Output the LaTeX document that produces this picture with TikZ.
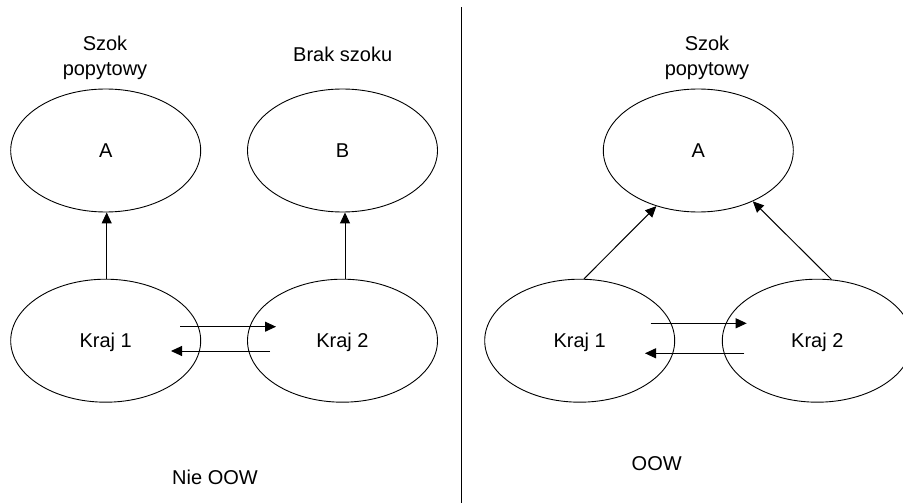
\documentclass[tikz,border=0pt]{standalone}
\usepackage{fontspec}
\setmainfont{Liberation Sans}
\usetikzlibrary{shapes.geometric,arrows.meta,calc}
\begin{document}
\begin{tikzpicture}[x=1pt,y=-1pt,
  every node/.style={font=\fontsize{20}{24.5}\selectfont},
  region/.style={draw,ellipse,minimum width=190pt,minimum height=123pt,
    inner sep=0pt,text depth=0pt,line width=0.9pt},
  link/.style={line width=1pt,-{Triangle[length=11pt,width=10pt]}},
  tag/.style={align=center,inner sep=0pt}]
\clip (0,0) rectangle (903,503);
\fill[white] (0,0) rectangle (903,503);

% left half: no optimum currency area
\node[region] (a)  at (105.7,150.5) {A};
\node[region] (b)  at (342.5,150.5) {B};
\node[region] (k1) at (105.7,340.7) {Kraj 1};
\node[region] (k2) at (342.5,340.7) {Kraj 2};
\node[tag] (sa) at (105,57.7) {Szok\\popytowy};
\node[tag,anchor=base] (sb) at (342.7,61.7) {Brak szoku};
\node[tag,anchor=base] (nie) at (215,484) {Nie OOW};

\draw[link] ($(k1.north)+(1,0)$) -- ($(a.south)+(1,0)$);
\draw[link] ($(k2.north)+(2.5,0)$) -- ($(b.south)+(2.5,0)$);
\draw[link] ($(k1.center)+(74.3,-14)$) -- ($(k2.center)+(-66.5,-14)$);
\draw[link] ($(k2.center)+(-72.5,10.3)$) -- ($(k1.center)+(65.3,10.3)$);

% divider
\coordinate (top) at (461.7,7.3);
\coordinate (bot) at (461.7,503);
\draw[line width=1.3pt] (top) -- (bot);

% right half: optimum currency area
\node[region] (ar)  at (698.3,150.5) {A};
\node[region] (k1r) at (579.7,340.7) {Kraj 1};
\node[region] (k2r) at (817.3,340.7) {Kraj 2};
\node[tag] (sr) at (707,57.7) {Szok\\popytowy};
\node[tag,anchor=base] (oow) at (656.7,470) {OOW};

\draw[link] (k1r.86) -- (ar.-127);
\draw[link] (k2r.77) -- (ar.-43);
\draw[link] ($(k1r.center)+(71,-17.4)$) -- ($(k2r.center)+(-70.6,-17.4)$);
\draw[link] ($(k2r.center)+(-73,12.6)$) -- ($(k1r.center)+(65.3,12.6)$);
\end{tikzpicture}
\end{document}
